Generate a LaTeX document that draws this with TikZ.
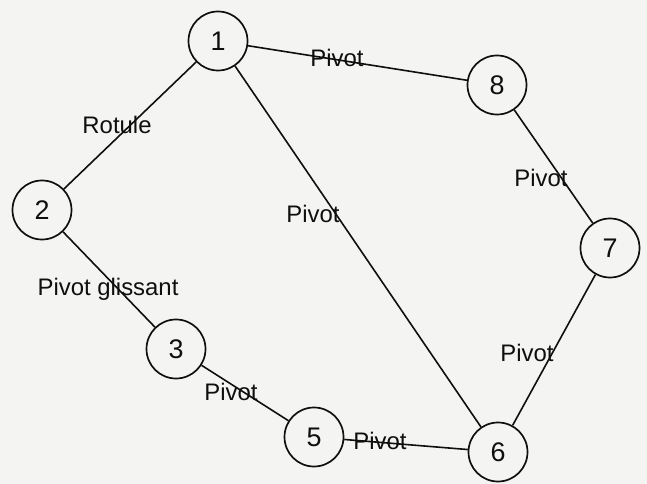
\documentclass[tikz,border=0pt]{standalone}
\usepackage{fontspec}
\setmainfont{Liberation Sans}
\definecolor{paper}{RGB}{244,244,242}
\definecolor{ink}{RGB}{15,15,15}
\begin{document}
\begin{tikzpicture}[x=1bp,y=-1bp,
  part/.style={circle,draw=ink,line width=1.7bp,minimum size=59bp,inner sep=0pt,font=\fontsize{27}{30}\selectfont,text=ink},
  link/.style={draw=ink,line width=1.6bp},
  lab/.style={inner sep=0pt,font=\fontsize{24}{28}\selectfont,text=ink}]
\fill[paper] (0,0) rectangle (647,484);
\useasboundingbox (0,0) rectangle (647,484);
\node[part] (n1) at (218,41) {1};
\node[part] (n8) at (497,85) {8};
\node[part] (n2) at (42,210) {2};
\node[part] (n7) at (610,248) {7};
\node[part] (n3) at (176,349) {3};
\node[part] (n5) at (314,437) {5};
\node[part] (n6) at (498,452) {6};
\draw[link] (n1) -- (n8);
\draw[link] (n1) -- (n2);
\draw[link] (n1) -- (n6);
\draw[link] (n8) -- (n7);
\draw[link] (n2) -- (n3);
\draw[link] (n7) -- (n6);
\draw[link] (n3) -- (n5);
\draw[link] (n5) -- (n6);
\node[lab] (l18) at (337,58) {Pivot};
\node[lab] (l12) at (117,125) {Rotule};
\node[lab] (l16) at (313,214) {Pivot};
\node[lab] (l87) at (541,178) {Pivot};
\node[lab,anchor=base] (l23) at (108,295) {Pivot glissant};
\node[lab] (l76) at (527,353) {Pivot};
\node[lab] (l35) at (231,392) {Pivot};
\node[lab] (l56) at (380,441) {Pivot};
\end{tikzpicture}
\end{document}
